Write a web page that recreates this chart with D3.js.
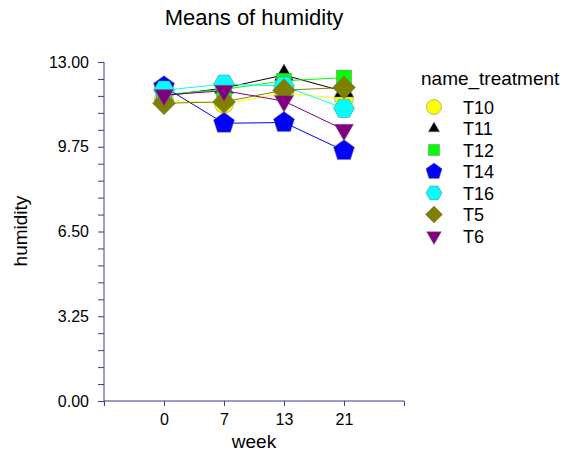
<!DOCTYPE html>
<html>
<head>
<meta charset="utf-8">
<script src="https://cdn.jsdelivr.net/npm/d3@7"></script>
<style>
  body { margin: 0; background: #fff; }
  text { font-family: "Liberation Sans", Arial, sans-serif; fill: #000; }
</style>
</head>
<body>
<div id="chart"></div>
<script>
// data
var weeks = ["0", "7", "13", "21"];
var treatments = ["T10", "T11", "T12", "T14", "T16", "T5", "T6"];
var T10 = [11.55, 11.4, 11.8, 11.6];
var T11 = [11.7, 12.0, 12.5, 11.87];
var T12 = [11.75, 11.95, 12.28, 12.4];
var T14 = [12.05, 10.65, 10.68, 9.6];
var T16 = [11.92, 12.15, 12.08, 11.22];
var T5 = [11.42, 11.47, 11.92, 12.02];
var T6 = [11.73, 11.9, 11.5, 10.4];
var yTicks = [0, 3.25, 6.5, 9.75, 13];

var series = [T10, T11, T12, T14, T16, T5, T6];
var colors = ["#ffff00", "#000000", "#00ff00", "#0000ff", "#00ffff", "#808000", "#800080"];
var shapes = ["circle", "triUp", "square", "pentagon", "hexagon", "diamond", "triDown"];

var width = 567, height = 452;
var axisColor = "#3b3b8e";

var svg = d3.select("#chart").append("svg")
    .attr("width", width)
    .attr("height", height);

// x is categorical with an empty slot on each side
var slots = ["_a"].concat(weeks).concat(["_b"]);
var x = d3.scalePoint().domain(slots).range([104, 404]);
var y = d3.scaleLinear().domain([0, 13]).range([401, 62]);

function polygon(n, r, rot) {
  var pts = [];
  for (var i = 0; i < n; i++) {
    var a = rot + i * 2 * Math.PI / n;
    pts.push([r * Math.cos(a), r * Math.sin(a)]);
  }
  return "M" + pts.map(p => p[0].toFixed(2) + "," + p[1].toFixed(2)).join("L") + "Z";
}

function shapePath(kind, r) {
  if (kind == "circle") return d3.symbol().type(d3.symbolCircle).size(Math.PI * r * r)();
  if (kind == "square") return "M" + -r + "," + -r + "H" + r + "V" + r + "H" + -r + "Z";
  if (kind == "triUp") return polygon(3, r, -Math.PI / 2);
  if (kind == "triDown") return polygon(3, r, Math.PI / 2);
  if (kind == "pentagon") return polygon(5, r, -Math.PI / 2);
  if (kind == "hexagon") return polygon(6, r, 0);
  if (kind == "diamond") return polygon(4, r, -Math.PI / 2);
}

var plotSize = {circle: 9.5, triUp: 11, square: 7.5, pentagon: 11, hexagon: 10.5, diamond: 11.5, triDown: 11};
var legSize = {circle: 7.5, triUp: 6.5, square: 5.5, pentagon: 8.5, hexagon: 8, diamond: 8.5, triDown: 8.5};

// y axis
var yAxis = d3.axisLeft(y).tickValues(d3.range(0, 13.001, 0.65))
    .tickSize(6)
    .tickFormat(d => yTicks.some(t => Math.abs(t - d) < 1e-6) ? d3.format(".2f")(d) : "");
var gy = svg.append("g").attr("transform", "translate(104,0)").call(yAxis);
gy.select(".domain").attr("stroke", axisColor).attr("d", "M0,62V401");
gy.selectAll(".tick line").attr("stroke", axisColor);
gy.selectAll(".tick text").attr("x", -15).style("font-size", "16px")
    .style("font-family", "Liberation Sans, Arial, sans-serif").attr("fill", "#000");

// x axis
var xAxis = d3.axisBottom(x).tickSize(5).tickFormat(d => d.charAt(0) == "_" ? "" : d);
var gx = svg.append("g").attr("transform", "translate(0,401)").call(xAxis);
gx.select(".domain").attr("stroke", axisColor).attr("d", "M104,0H404");
gx.selectAll(".tick line").attr("stroke", axisColor);
gx.selectAll(".tick text").attr("y", 13).style("font-size", "16px")
    .style("font-family", "Liberation Sans, Arial, sans-serif").attr("fill", "#000");

// titles
svg.append("text").attr("x", 254).attr("y", 25).attr("text-anchor", "middle")
    .style("font-size", "22px").text("Means of humidity");
svg.append("text").attr("x", 254).attr("y", 448).attr("text-anchor", "middle")
    .style("font-size", "19px").text("week");
svg.append("text").attr("transform", "translate(27,231) rotate(-90)").attr("text-anchor", "middle")
    .style("font-size", "19px").text("humidity");

// lines then markers, series after series
var line = d3.line().x((d, i) => x(weeks[i])).y(d => y(d));
series.forEach(function(s, k) {
  svg.append("path").datum(s)
      .attr("d", line)
      .attr("fill", "none")
      .attr("stroke", colors[k])
      .attr("stroke-width", 1);
  svg.selectAll(".m" + k)
      .data(s)
      .join("path")
      .attr("class", "m" + k)
      .attr("transform", (d, i) => "translate(" + x(weeks[i]) + "," + y(d) + ")")
      .attr("d", shapePath(shapes[k], plotSize[shapes[k]]))
      .attr("fill", colors[k])
      .attr("stroke", "#777")
      .attr("stroke-width", 0.5);
});

// legend
svg.append("text").attr("x", 421).attr("y", 85).style("font-size", "19px").text("name_treatment");
treatments.forEach(function(t, k) {
  var ly = 107 + k * 21.5;
  svg.append("path")
      .attr("transform", "translate(434," + ly + ")")
      .attr("d", shapePath(shapes[k], legSize[shapes[k]]))
      .attr("fill", colors[k])
      .attr("stroke", "#777")
      .attr("stroke-width", 0.5);
  svg.append("text").attr("x", 463).attr("y", ly + 6.5).style("font-size", "18px").text(t);
});
</script>
</body>
</html>
